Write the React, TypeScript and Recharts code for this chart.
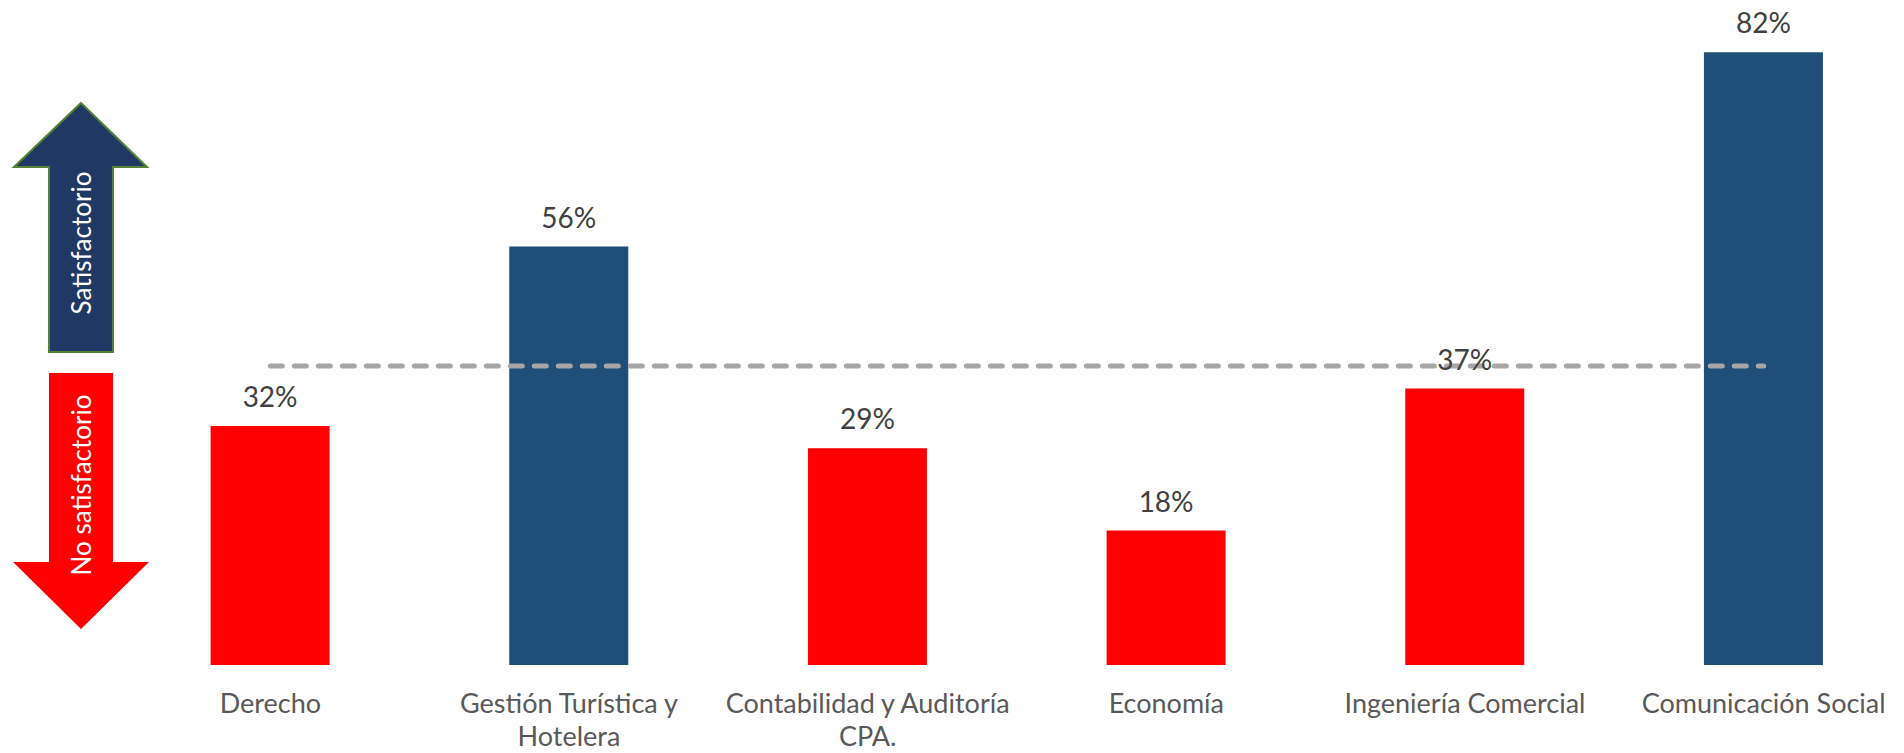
import React from 'react'
import { BarChart, Bar, XAxis, YAxis, Cell, LabelList, ReferenceLine } from 'recharts'

const categories = [
  'Derecho',
  'Gestión Turística y\nHotelera',
  'Contabilidad y Auditoría\nCPA.',
  'Economía',
  'Ingeniería Comercial',
  'Comunicación Social',
]
const values = [32, 56, 29, 18, 37, 82]
const threshold = 40

const RED = '#FF0000'
const NAVY = '#1F4E79'
const FONT = 'Lato, "Open Sans", sans-serif'

const data = categories.map((name, i) => ({ name, value: values[i] }))

const CategoryTick = (props: any) => {
  const { x, y, payload } = props
  const lines = String(payload.value).split('\n')
  return (
    <text x={x} y={y} textAnchor="middle" fill="#595959" fontSize={27} fontFamily={FONT}>
      {lines.map((line: string, i: number) => (
        <tspan key={i} x={x} dy={i === 0 ? 40 : 33}>
          {line}
        </tspan>
      ))}
    </text>
  )
}

// the two arrows on the left
const Arrows = () => (
  <svg width={170} height={753} style={{ position: 'absolute', left: 0, top: 0 }}>
    <polygon
      points="81,103 147,167 113,167 113,352 49,352 49,167 14,167"
      fill="#203864"
      stroke="#548235"
      strokeWidth={2}
    />
    <polygon points="49,373 113,373 113,562 149,562 81,629 13,562 49,562" fill="#FF0000" />
    <text
      x={81}
      y={243}
      transform="rotate(-90 81 243)"
      textAnchor="middle"
      dominantBaseline="central"
      fill="#ffffff"
      fontSize={26}
      fontFamily={FONT}
    >
      Satisfactorio
    </text>
    <text
      x={81}
      y={485}
      transform="rotate(-90 81 485)"
      textAnchor="middle"
      dominantBaseline="central"
      fill="#ffffff"
      fontSize={26}
      fontFamily={FONT}
    >
      No satisfactorio
    </text>
  </svg>
)

export default function App() {
  return (
    <div
      style={{
        position: 'absolute',
        left: 0,
        top: 0,
        width: 1904,
        height: 753,
        overflow: 'hidden',
        background: '#ffffff',
      }}
    >
      <BarChart
        width={1920}
        height={753}
        data={data}
        margin={{ top: 0, right: 7, bottom: 0, left: 121 }}
        barCategoryGap="30%"
      >
        <XAxis
          dataKey="name"
          axisLine={false}
          tickLine={false}
          height={88}
          interval={0}
          tick={<CategoryTick />}
        />
        <YAxis hide domain={[0, 89]} />
        <Bar dataKey="value" isAnimationActive={false}>
          {data.map((d, i) => (
            <Cell key={i} fill={d.value >= threshold ? NAVY : RED} />
          ))}
          <LabelList
            dataKey="value"
            position="top"
            offset={19}
            formatter={(v: any) => `${v}%`}
            fill="#404040"
            fontSize={28}
            fontFamily={FONT}
          />
        </Bar>
        <ReferenceLine
          segment={[
            { x: categories[0], y: threshold },
            { x: categories[categories.length - 1], y: threshold },
          ]}
          stroke="#A6A6A6"
          strokeWidth={5}
          strokeDasharray="12 12"
          strokeLinecap="round"
        />
      </BarChart>
      <Arrows />
    </div>
  )
}
